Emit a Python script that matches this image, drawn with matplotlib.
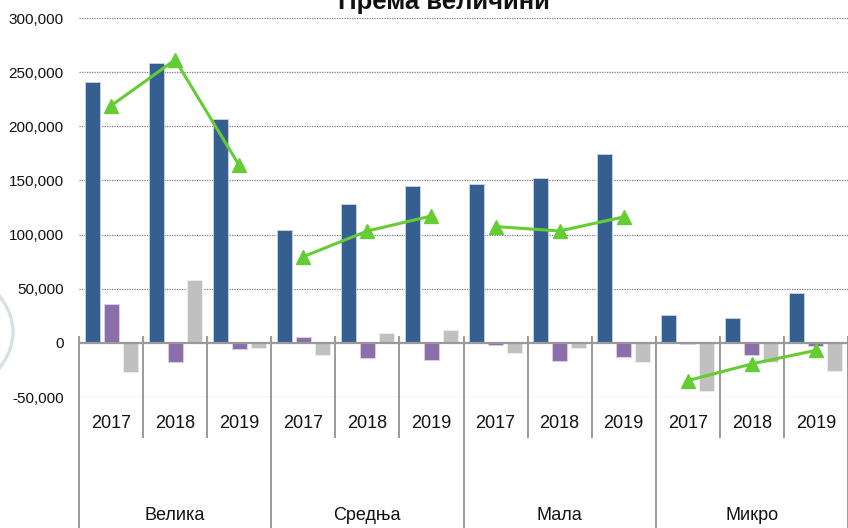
import matplotlib
matplotlib.use("Agg")
import matplotlib.pyplot as plt
import matplotlib.transforms as mtransforms
from matplotlib.patches import Circle
import numpy as np

plt.rcParams['font.family'] = ['Liberation Sans', 'DejaVu Sans']

title = "Према величини"
groups = ["Велика", "Средња", "Мала", "Микро"]
years = ["2017", "2018", "2019"]

# one value per (group, year), in order
series_blue = [241000, 258000, 206500,
               104600, 128000, 144400,
               146600, 152100, 174600,
               25300, 23100, 45900]
series_purple = [36000, -17600, -5300,
                 5000, -13900, -16100,
                 -2200, -17000, -13300,
                 -1300, -11500, -3100]
series_gray = [-26600, 57700, -5000,
               -11100, 9500, 12300,
               -9300, -4600, -18000,
               -44800, -18000, -26300]
series_green = [219000, 261400, 163900,
                79600, 103300, 117200,
                107400, 103300, 116300,
                -34900, -19400, -6900]

yticks = [-50000, 0, 50000, 100000, 150000, 200000, 250000, 300000]

W, H = 848, 528
fig = plt.figure(figsize=(W / 100, H / 100), dpi=100)
ax = fig.add_axes([79 / W, 1 - 397 / H, (848 - 79) / W, (397 - 18) / H])

n = len(series_blue)
x = np.arange(n)
bw = 0.234
off = 0.297
c_blue, c_purple, c_gray, c_green = '#365f91', '#8a6fab', '#c0c0c0', '#66cc33'

ax.bar(x - off, series_blue, bw, color=c_blue, edgecolor='#c9d6e6', linewidth=0.6, zorder=3)
ax.bar(x, series_purple, bw, color=c_purple, edgecolor='#ddd3ea', linewidth=0.6, zorder=3)
ax.bar(x + off, series_gray, bw, color=c_gray, edgecolor='#eeeeee', linewidth=0.6, zorder=3)

ng = len(years)
for g in range(len(groups)):
    sl = slice(g * ng, (g + 1) * ng)
    ax.plot(x[sl], series_green[sl], color=c_green, lw=2.2, marker='^', markersize=10,
            markeredgecolor=c_green, zorder=5, clip_on=False)

ax.set_xlim(-0.5, n - 0.5)
ax.set_ylim(yticks[0], yticks[-1])
ax.set_yticks(yticks)
ax.set_yticklabels([f"{v:,}" for v in yticks], fontsize=11, color='#111111')
ax.tick_params(axis='y', length=0, pad=11)
ax.set_xticks([])
for s in ax.spines.values():
    s.set_visible(False)

for v in yticks:
    if v != 0:
        ax.axhline(v, color='#7f7f7f', lw=0.9, ls=(0, (1, 1)), zorder=1)
ax.axhline(0, color='#9a9a9a', lw=1.6, zorder=4)

# category axis dividers and labels
tr = mtransforms.blended_transform_factory(ax.transData, fig.transFigure)
y_zero_top = 1 - 337 / H
y_year_bot = 1 - 437 / H
for k in range(n + 1):
    xb = k - 0.5
    ybot = 0 if k % ng == 0 else y_year_bot
    ax.plot([xb, xb], [y_zero_top, ybot], transform=tr, color='#9a9a9a', lw=1.4,
            clip_on=False, zorder=4)

for i in range(n):
    ax.text(x[i], 1 - 423 / H, years[i % ng], transform=tr, ha='center', va='center',
            fontsize=13, family=['Liberation Sans Narrow', 'Liberation Sans', 'DejaVu Sans'],
            color='#111111')
for g, name in enumerate(groups):
    xc = g * ng + (ng - 1) / 2
    ax.text(xc, 1 - 515 / H, name, transform=tr, ha='center', va='center',
            fontsize=13, family=['Liberation Sans Narrow', 'Liberation Sans', 'DejaVu Sans'],
            color='#111111')

fig.text(444 / W, 1 - 9 / H, title, ha='center', va='baseline', fontsize=18.5,
         fontweight='bold', color='#111111')

# faint watermark arc at the left edge
fig.patches.append(Circle((-117 / W, 1 - 332 / H), 130 / W, transform=fig.transFigure,
                          fill=False, edgecolor='#b3c9d0', lw=2.4, alpha=0.55))

fig.savefig("out.png", dpi=100)
